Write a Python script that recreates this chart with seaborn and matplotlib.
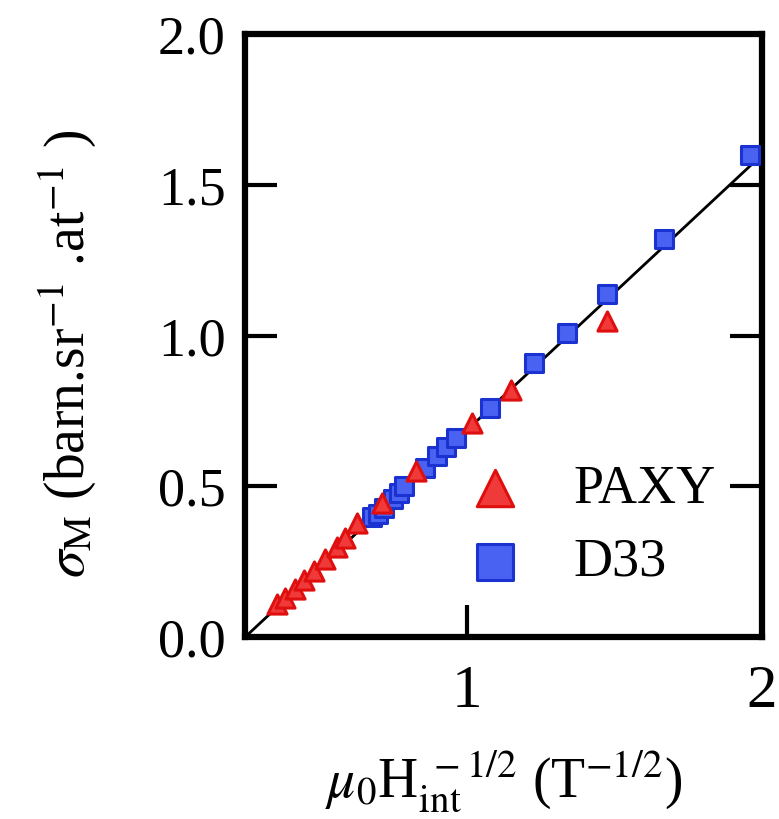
import numpy as np
import pandas as pd
import matplotlib
matplotlib.use("Agg")
import matplotlib.pyplot as plt
import seaborn as sns

# PAXY data (triangles)
paxy_x = [0.36, 0.385, 0.42, 0.45, 0.485, 0.52, 0.56, 0.59, 0.63, 0.715, 0.83, 1.02, 1.15, 1.475]
paxy_y = [0.11, 0.13, 0.16, 0.19, 0.22, 0.26, 0.30, 0.33, 0.38, 0.445, 0.55, 0.71, 0.82, 1.05]

# D33 data (squares)
d33_x = [0.68, 0.70, 0.72, 0.75, 0.77, 0.79, 0.86, 0.90, 0.93, 0.965, 1.08, 1.23, 1.34, 1.475, 1.67, 1.96]
d33_y = [0.40, 0.41, 0.43, 0.46, 0.48, 0.50, 0.56, 0.60, 0.63, 0.66, 0.76, 0.91, 1.01, 1.14, 1.32, 1.60]

# linear fit
fit_x = [0.25, 2.0]
fit_y = [0.0, 1.60]

x_ticks = [1, 2]
x_ticklabels = ["1", "2"]
y_ticks = [0.0, 0.5, 1.0, 1.5, 2.0]
y_ticklabels = ["0.0", "0.5", "1.0", "1.5", "2.0"]

sns.set_style("ticks")
plt.rcParams['font.family'] = ['Liberation Serif', 'DejaVu Serif']
plt.rcParams['mathtext.fontset'] = 'stix'
plt.rcParams['text.color'] = 'black'
plt.rcParams['axes.labelcolor'] = 'black'
plt.rcParams['xtick.color'] = 'black'
plt.rcParams['ytick.color'] = 'black'

fig = plt.figure(figsize=(7.79, 8.19), dpi=100)
ax = fig.add_axes([0.3145, 0.222, 0.6635, 0.736])

sns.lineplot(x=fit_x, y=fit_y, color="black", linewidth=2.0, ax=ax, zorder=2)
sns.scatterplot(x=d33_x, y=d33_y, marker="s", s=180, color="#4a62f2",
                edgecolor="#1a33d0", linewidth=2.2, label="D33", ax=ax, zorder=3)
sns.scatterplot(x=paxy_x, y=paxy_y, marker="^", s=190, color="#f03a3a",
                edgecolor="#e00f0f", linewidth=2.2, label="PAXY", ax=ax, zorder=4)

ax.set_xlim(0.25, 2.0)
ax.set_ylim(0.0, 2.0)
ax.set_xticks(x_ticks)
ax.set_xticklabels(x_ticklabels)
ax.set_yticks(y_ticks)
ax.set_yticklabels(y_ticklabels)
ax.tick_params(direction="in", length=23, width=3, top=False, right=True)
ax.tick_params(axis="y", labelsize=39, pad=14)
ax.tick_params(axis="x", labelsize=44, pad=20)
for sp in ax.spines.values():
    sp.set_linewidth(4.5)
    sp.set_color("black")

ax.set_xlabel(r"$\mu_0$H$_{\rm int}^{\ -1/2}$ (T$^{-1/2}$)", fontsize=40, labelpad=20)
ax.set_ylabel(r"$\sigma_{\rm M}$ (barn.sr$^{-1}$ .at$^{-1}$ )", fontsize=40)
ax.yaxis.set_label_coords(-0.285, 0.47)

handles, labels = ax.get_legend_handles_labels()
order = [labels.index("PAXY"), labels.index("D33")]
ax.legend([handles[i] for i in order], [labels[i] for i in order],
          loc="upper left", bbox_to_anchor=(0.378, 0.287), frameon=False,
          fontsize=39, markerscale=1.9, handlelength=2.0, handletextpad=0.45,
          labelspacing=0.42, borderpad=0.0, borderaxespad=0.0)

fig.savefig("out.png", dpi=100)
